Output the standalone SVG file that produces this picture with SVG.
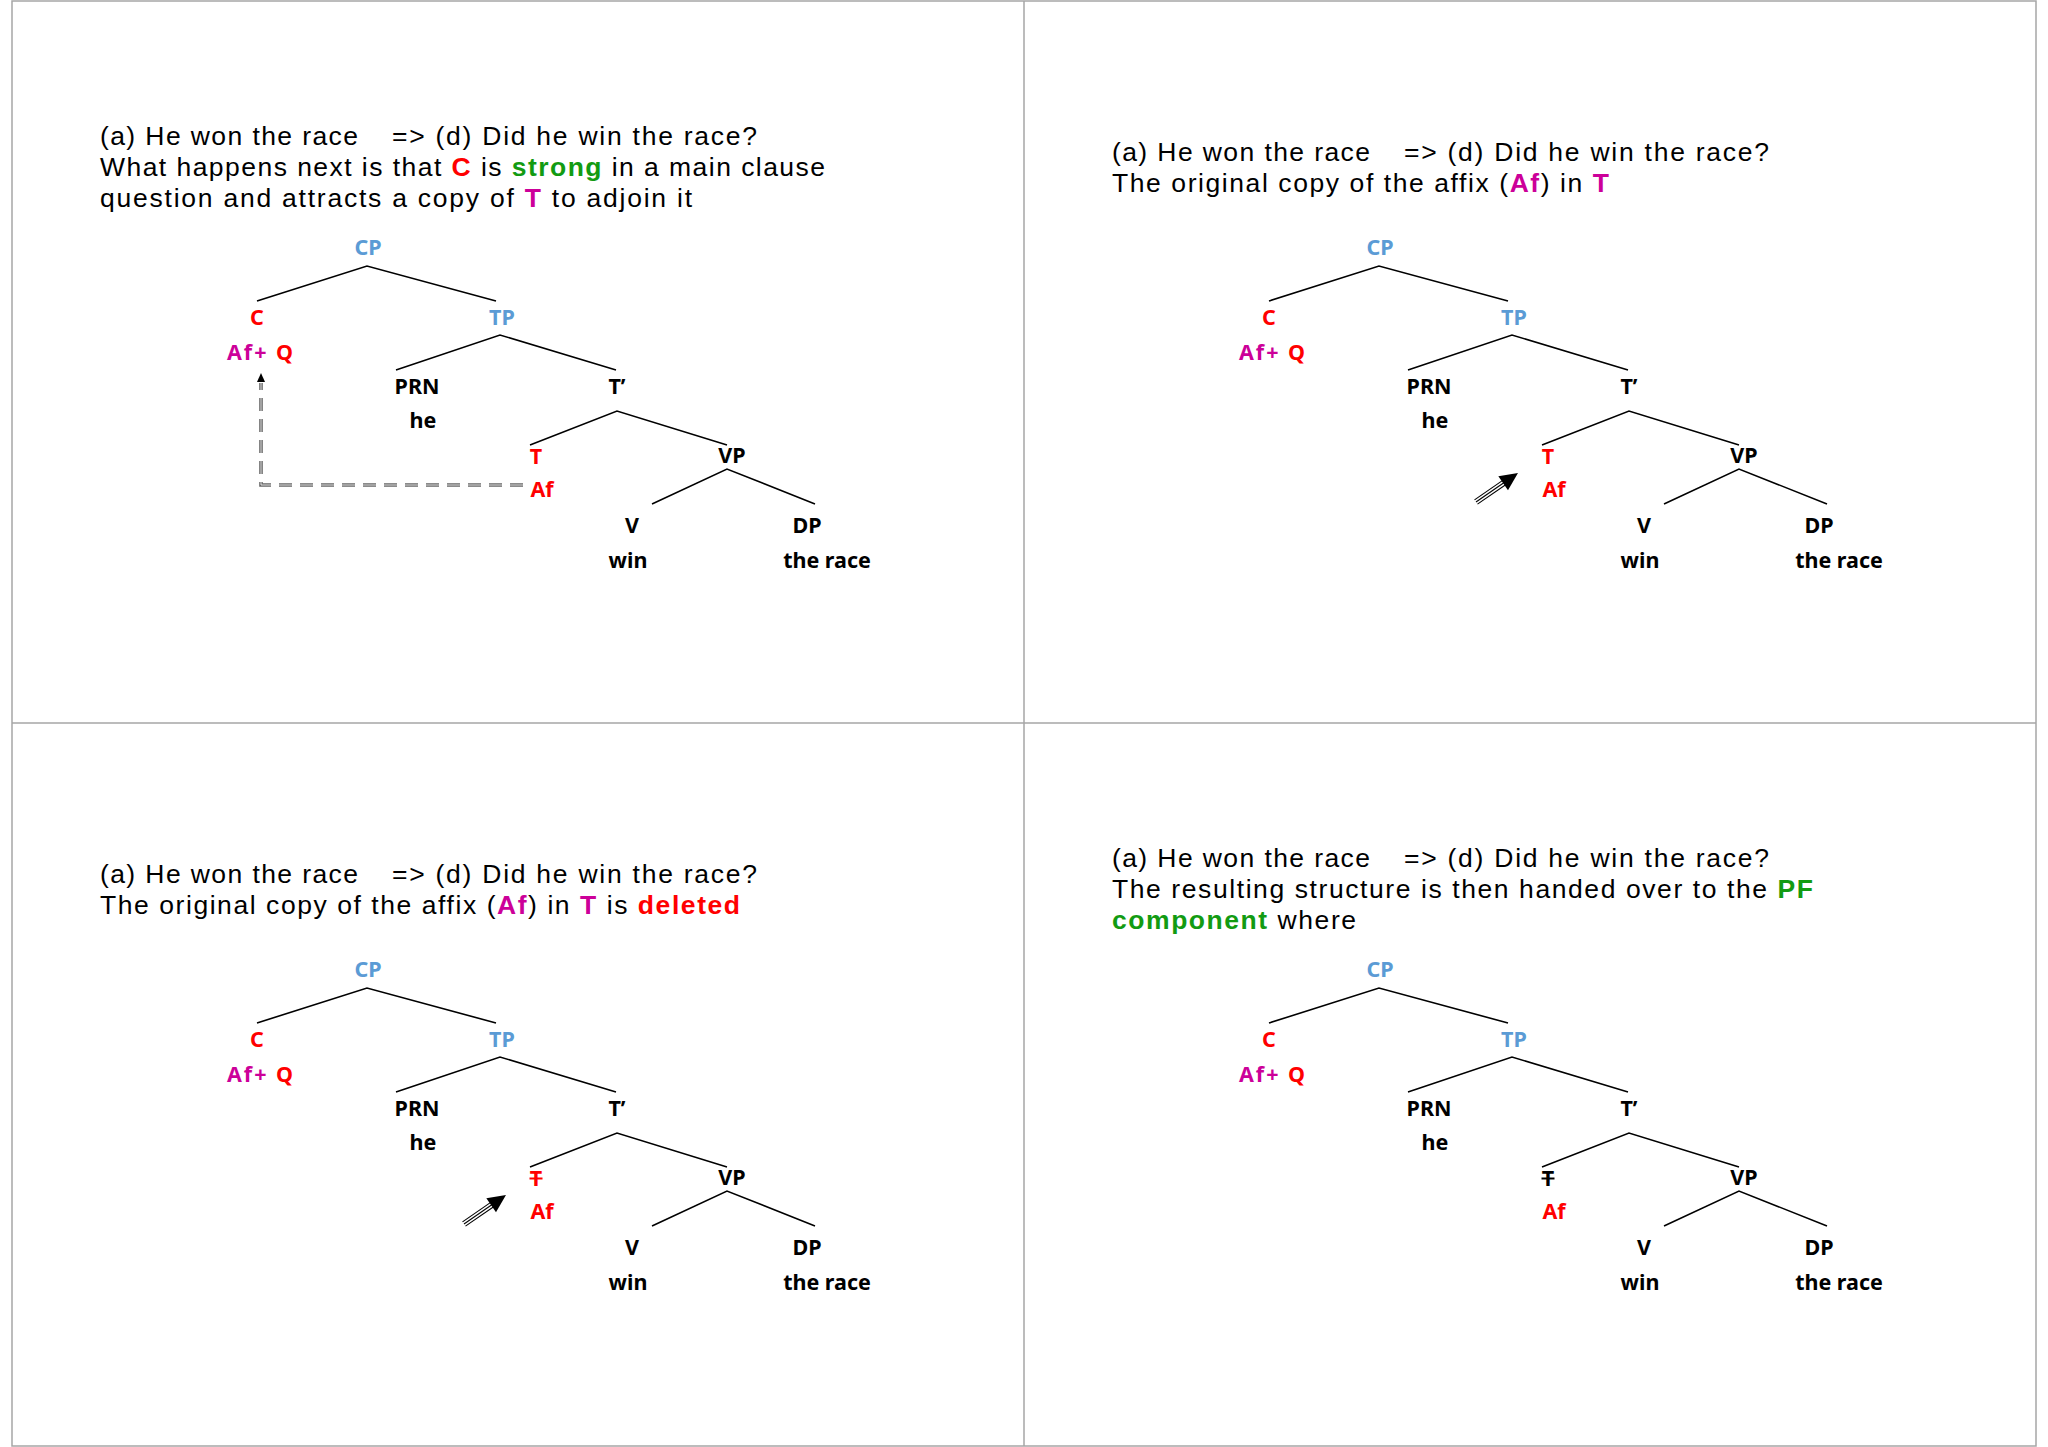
<svg xmlns="http://www.w3.org/2000/svg" width="2048" height="1447" viewBox="0 0 2048 1447">
<style>
.ttl{font-family:"Liberation Sans",Arial,sans-serif;font-size:26.5px;fill:#000}
.b{font-weight:bold}
.lbl{font-family:"Noto Sans","Liberation Sans",sans-serif;font-size:21.5px;font-weight:bold;text-anchor:middle;fill:#000}
.aq{font-family:"Noto Sans","Liberation Sans",sans-serif;font-size:21.5px;font-weight:bold}
.edge{stroke:#000;stroke-width:1.6;fill:none}
.blue{fill:#5B9BD5}
.red{fill:#FF0000}
.mag{fill:#CC0099}
.grn{fill:#129B12}
.frame{stroke:#A6A6A6;stroke-width:1.5;fill:none}
.strike{stroke-width:2}
</style>
<defs>
<g id="blockArrow">
<line x1="0" y1="-2.6" x2="36" y2="-2.6" stroke="#000" stroke-width="1.1"/>
<line x1="0" y1="0" x2="36" y2="0" stroke="#000" stroke-width="1.1"/>
<line x1="0" y1="2.6" x2="36" y2="2.6" stroke="#000" stroke-width="1.1"/>
<polygon points="33,-8.5 51,0 33,8.5" fill="#000"/>
</g>
</defs>
<rect width="2048" height="1447" fill="#fff"/>
<g id="frame">
<rect class="frame" x="12" y="1" width="2024" height="1445"/>
<line class="frame" x1="1024" y1="1" x2="1024" y2="1446"/>
<line class="frame" x1="12" y1="723" x2="2036" y2="723"/>
</g>

<!-- Panel 1 -->
<g id="panel1">
<g id="p1-title">
<text class="ttl" x="100" y="145" textLength="258">(a) He won the race</text>
<text class="ttl" x="392" y="145" textLength="365">=&gt; (d) Did he win the race?</text>
<text class="ttl" x="100" y="176" textLength="725">What happens next is that <tspan class="b red">C</tspan> is <tspan class="b grn">strong</tspan> in a main clause</text>
<text class="ttl" x="100" y="207" textLength="592">question and attracts a copy of <tspan class="b mag">T</tspan> to adjoin it</text>
</g>
<g id="p1-connectors">
<polyline class="edge" points="257,301 367,266 496,301"/>
<polyline class="edge" points="396,370 500,335 616,370"/>
<polyline class="edge" points="530,445 617,411 727,445"/>
<polyline class="edge" points="652,504 727,469 815,504"/>
<g id="p1-movement">
<path d="M523,485 H261 V383" fill="none" stroke="#666" stroke-width="3.6" stroke-dasharray="13,8"/>
<path d="M523,485 H261 V383" fill="none" stroke="#fff" stroke-width="0.8" stroke-dasharray="13,8"/>
<polygon points="261,373 257,382 265,382" fill="#000"/>
</g>
</g>
<g id="p1-CP"><text class="lbl blue" x="368" y="255">CP</text></g>
<g id="p1-C"><text class="lbl red" x="257" y="325">C</text><text class="aq" x="227" y="360" textLength="66"><tspan class="mag">Af+</tspan><tspan class="red"> Q</tspan></text></g>
<g id="p1-TP"><text class="lbl blue" x="502" y="325">TP</text></g>
<g id="p1-PRN"><text class="lbl" x="417" y="394">PRN</text><text class="lbl" x="423" y="428">he</text></g>
<g id="p1-Tbar"><text class="lbl" x="617" y="394">T’</text></g>
<g id="p1-T"><text class="lbl red" x="536" y="464">T</text><text class="lbl red" x="542" y="497">Af</text></g>
<g id="p1-VP"><text class="lbl" x="732" y="463">VP</text></g>
<g id="p1-V"><text class="lbl" x="632" y="533">V</text><text class="lbl" x="628" y="568">win</text></g>
<g id="p1-DP"><text class="lbl" x="807" y="533">DP</text><text class="lbl" x="827" y="568">the race</text></g>
</g>

<!-- Panel 2 -->
<g id="panel2" transform="translate(1012,0)">
<g id="p2-title">
<text class="ttl" x="100" y="160.5" textLength="258">(a) He won the race</text>
<text class="ttl" x="392" y="160.5" textLength="365">=&gt; (d) Did he win the race?</text>
<text class="ttl" x="100" y="191.5" textLength="497">The original copy of the affix (<tspan class="b mag">Af</tspan>) in <tspan class="b mag">T</tspan></text>
</g>
<g id="p2-connectors">
<polyline class="edge" points="257,301 367,266 496,301"/>
<polyline class="edge" points="396,370 500,335 616,370"/>
<polyline class="edge" points="530,445 617,411 727,445"/>
<polyline class="edge" points="652,504 727,469 815,504"/>
<use href="#blockArrow" transform="translate(464,502) rotate(-34.6)"/>
</g>
<g id="p2-CP"><text class="lbl blue" x="368" y="255">CP</text></g>
<g id="p2-C"><text class="lbl red" x="257" y="325">C</text><text class="aq" x="227" y="360" textLength="66"><tspan class="mag">Af+</tspan><tspan class="red"> Q</tspan></text></g>
<g id="p2-TP"><text class="lbl blue" x="502" y="325">TP</text></g>
<g id="p2-PRN"><text class="lbl" x="417" y="394">PRN</text><text class="lbl" x="423" y="428">he</text></g>
<g id="p2-Tbar"><text class="lbl" x="617" y="394">T’</text></g>
<g id="p2-T"><text class="lbl red" x="536" y="464">T</text><text class="lbl red" x="542" y="497">Af</text></g>
<g id="p2-VP"><text class="lbl" x="732" y="463">VP</text></g>
<g id="p2-V"><text class="lbl" x="632" y="533">V</text><text class="lbl" x="628" y="568">win</text></g>
<g id="p2-DP"><text class="lbl" x="807" y="533">DP</text><text class="lbl" x="827" y="568">the race</text></g>
</g>

<!-- Panel 3 -->
<g id="panel3" transform="translate(0,722)">
<g id="p3-title">
<text class="ttl" x="100" y="160.5" textLength="258">(a) He won the race</text>
<text class="ttl" x="392" y="160.5" textLength="365">=&gt; (d) Did he win the race?</text>
<text class="ttl" x="100" y="191.5" textLength="640">The original copy of the affix (<tspan class="b mag">Af</tspan>) in <tspan class="b mag">T</tspan> is <tspan class="b red">deleted</tspan></text>
</g>
<g id="p3-connectors">
<polyline class="edge" points="257,301 367,266 496,301"/>
<polyline class="edge" points="396,370 500,335 616,370"/>
<polyline class="edge" points="530,445 617,411 727,445"/>
<polyline class="edge" points="652,504 727,469 815,504"/>
<use href="#blockArrow" transform="translate(464,502) rotate(-34.6)"/>
</g>
<g id="p3-CP"><text class="lbl blue" x="368" y="255">CP</text></g>
<g id="p3-C"><text class="lbl red" x="257" y="325">C</text><text class="aq" x="227" y="360" textLength="66"><tspan class="mag">Af+</tspan><tspan class="red"> Q</tspan></text></g>
<g id="p3-TP"><text class="lbl blue" x="502" y="325">TP</text></g>
<g id="p3-PRN"><text class="lbl" x="417" y="394">PRN</text><text class="lbl" x="423" y="428">he</text></g>
<g id="p3-Tbar"><text class="lbl" x="617" y="394">T’</text></g>
<g id="p3-T"><text class="lbl red" x="536" y="464">T</text><line class="strike" x1="529.5" y1="456.5" x2="542.5" y2="456.5" stroke="#FF0000"/><text class="lbl red" x="542" y="497">Af</text></g>
<g id="p3-VP"><text class="lbl" x="732" y="463">VP</text></g>
<g id="p3-V"><text class="lbl" x="632" y="533">V</text><text class="lbl" x="628" y="568">win</text></g>
<g id="p3-DP"><text class="lbl" x="807" y="533">DP</text><text class="lbl" x="827" y="568">the race</text></g>
</g>

<!-- Panel 4 -->
<g id="panel4" transform="translate(1012,722)">
<g id="p4-title">
<text class="ttl" x="100" y="145" textLength="258">(a) He won the race</text>
<text class="ttl" x="392" y="145" textLength="365">=&gt; (d) Did he win the race?</text>
<text class="ttl" x="100" y="176" textLength="701">The resulting structure is then handed over to the <tspan class="b grn">PF</tspan></text>
<text class="ttl" x="100" y="207" textLength="244"><tspan class="b grn">component</tspan> where</text>
</g>
<g id="p4-connectors">
<polyline class="edge" points="257,301 367,266 496,301"/>
<polyline class="edge" points="396,370 500,335 616,370"/>
<polyline class="edge" points="530,445 617,411 727,445"/>
<polyline class="edge" points="652,504 727,469 815,504"/>
</g>
<g id="p4-CP"><text class="lbl blue" x="368" y="255">CP</text></g>
<g id="p4-C"><text class="lbl red" x="257" y="325">C</text><text class="aq" x="227" y="360" textLength="66"><tspan class="mag">Af+</tspan><tspan class="red"> Q</tspan></text></g>
<g id="p4-TP"><text class="lbl blue" x="502" y="325">TP</text></g>
<g id="p4-PRN"><text class="lbl" x="417" y="394">PRN</text><text class="lbl" x="423" y="428">he</text></g>
<g id="p4-Tbar"><text class="lbl" x="617" y="394">T’</text></g>
<g id="p4-T"><text class="lbl" x="536" y="464">T</text><line class="strike" x1="529.5" y1="456.5" x2="542.5" y2="456.5" stroke="#000"/><text class="lbl red" x="542" y="497">Af</text></g>
<g id="p4-VP"><text class="lbl" x="732" y="463">VP</text></g>
<g id="p4-V"><text class="lbl" x="632" y="533">V</text><text class="lbl" x="628" y="568">win</text></g>
<g id="p4-DP"><text class="lbl" x="807" y="533">DP</text><text class="lbl" x="827" y="568">the race</text></g>
</g>
</svg>
